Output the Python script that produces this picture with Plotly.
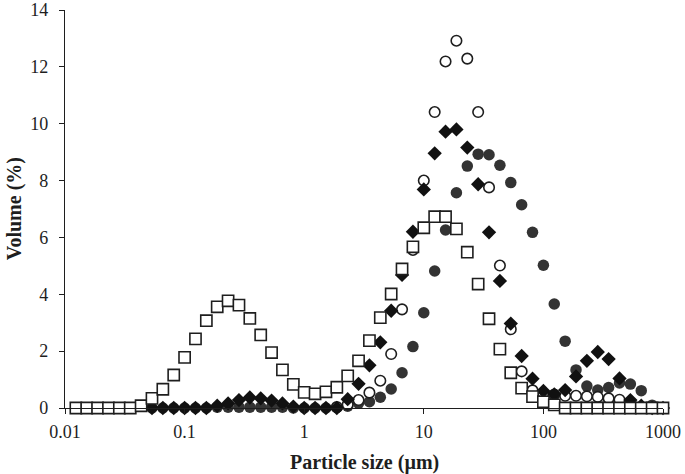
import plotly.graph_objects as go

# particle size classes (µm), 11 per decade
sizes = [0.01233, 0.0152, 0.01874, 0.0231, 0.02848, 0.03511, 0.04329, 0.05337, 0.06579, 0.08111, 0.1,
         0.1233, 0.152, 0.1874, 0.231, 0.2848, 0.3511, 0.4329, 0.5337, 0.6579, 0.8111, 1,
         1.233, 1.52, 1.874, 2.31, 2.848, 3.511, 4.329, 5.337, 6.579, 8.111, 10,
         12.33, 15.2, 18.74, 23.1, 28.48, 35.11, 43.29, 53.37, 65.79, 81.11, 100,
         123.3, 152, 187.4, 231, 284.8, 351.1, 432.9, 533.7, 657.9, 811.1, 1000]

N = None
open_squares = [0, 0, 0, 0, 0, 0, 0.08, 0.34, 0.66, 1.16, 1.78,
                2.43, 3.07, 3.56, 3.77, 3.62, 3.15, 2.57, 1.95, 1.34, 0.83, 0.55,
                0.50, 0.57, 0.73, 1.13, 1.66, 2.37, 3.18, 4.01, 4.89, 5.67, 6.34,
                6.73, 6.73, 6.30, 5.48, 4.36, 3.14, 2.07, 1.24, 0.70, 0.40, 0.22,
                0.11, 0, 0, 0, 0, 0, 0, 0, 0, 0, 0]

diamonds = [N, N, N, N, N, N, N, 0, 0, 0, 0,
            0, 0, 0.08, 0.16, 0.28, 0.37, 0.34, 0.26, 0.16, 0.05, 0,
            0, 0, 0, 0.31, 0.85, 1.50, 2.31, 3.42, 4.68, 6.20, 7.69,
            8.96, 9.72, 9.80, 9.16, 7.87, 6.18, 4.47, 2.97, 1.83, 1.03, 0.60,
            0.48, 0.63, 1.11, 1.66, 1.97, 1.72, 1.04, 0.28, 0.08, 0, 0]

open_circles = [N, N, N, N, N, N, N, N, N, N, N,
                N, N, N, N, N, N, N, N, N, N, N,
                N, N, 0.03, 0.12, 0.28, 0.54, 0.96, 1.90, 3.47, 5.56, 8.00,
                10.41, 12.19, 12.92, 12.29, 10.41, 7.76, 5.01, 2.77, 1.29, 0.62, 0.50,
                0.47, 0.43, 0.43, 0.41, 0.39, 0.34, 0.29, 0.10, 0.02, 0, 0]

filled_circles = [N, N, N, N, N, N, N, 0, 0, 0, 0,
                  0, 0, 0.03, 0.03, 0.03, 0.03, 0.03, 0.03, 0.03, 0, 0,
                  0, 0, 0.02, 0.06, 0.17, 0.22, 0.38, 0.67, 1.24, 2.16, 3.35,
                  4.82, 6.26, 7.57, 8.51, 8.93, 8.91, 8.54, 7.93, 7.15, 6.18, 5.02,
                  3.66, 2.35, 1.34, 0.77, 0.63, 0.72, 0.88, 0.84, 0.61, 0.10, 0]

FONT = "Liberation Serif"
INK = "#1e1e1e"

fig = go.Figure()

# drawing order: filled circles, open circles, diamonds, squares on top
fig.add_trace(go.Scatter(x=sizes, y=filled_circles, mode="markers", cliponaxis=False,
                         marker=dict(symbol="circle", size=11.5, color="#333333",
                                     line=dict(width=0))))
fig.add_trace(go.Scatter(x=sizes, y=open_circles, mode="markers", cliponaxis=False,
                         marker=dict(symbol="circle", size=10.5, color="white",
                                     line=dict(width=1.6, color=INK))))
fig.add_trace(go.Scatter(x=sizes, y=diamonds, mode="markers", cliponaxis=False,
                         marker=dict(symbol="diamond", size=11, color="#111111",
                                     line=dict(width=0))))
fig.add_trace(go.Scatter(x=sizes, y=open_squares, mode="markers", cliponaxis=False,
                         marker=dict(symbol="square", size=11.2, color="white",
                                     line=dict(width=1.6, color=INK))))

fig.update_xaxes(type="log", range=[-2, 3], automargin=False,
                 tickvals=[0.01, 0.1, 1, 10, 100, 1000],
                 ticktext=["0.01", "0.1", "1", "10", "100", "1000"],
                 ticks="outside", ticklen=5, tickwidth=1.3, tickcolor=INK,
                 showline=True, linecolor=INK, linewidth=1.4,
                 showgrid=False, zeroline=False, ticklabelstandoff=2,
                 tickfont=dict(family=FONT, size=18, color=INK))
fig.update_yaxes(range=[0, 14], dtick=2, automargin=False,
                 ticks="outside", ticklen=5, tickwidth=1.3, tickcolor=INK,
                 showline=True, linecolor=INK, linewidth=1.4,
                 showgrid=False, zeroline=False, ticklabelstandoff=7,
                 tickfont=dict(family=FONT, size=18, color=INK))

fig.add_annotation(text="<b>Particle size (µm)</b>", xref="paper", yref="paper",
                   x=0.5, y=-0.138, xanchor="center", yanchor="middle", showarrow=False,
                   font=dict(family=FONT, size=20, color=INK))
fig.add_annotation(text="<b>Volume (%)</b>", xref="paper", yref="paper",
                   x=-0.085, y=0.5, xanchor="center", yanchor="middle", showarrow=False,
                   textangle=-90, font=dict(family=FONT, size=20, color=INK))

fig.update_layout(width=685, height=474, showlegend=False,
                  margin=dict(l=65, r=22, t=10, b=66),
                  plot_bgcolor="white", paper_bgcolor="white")

# drop the browser's default body margin so the figure fills the window
fig.write_html("out.html", config={"displayModeBar": False},
               post_script="document.body.style.margin='0';")
